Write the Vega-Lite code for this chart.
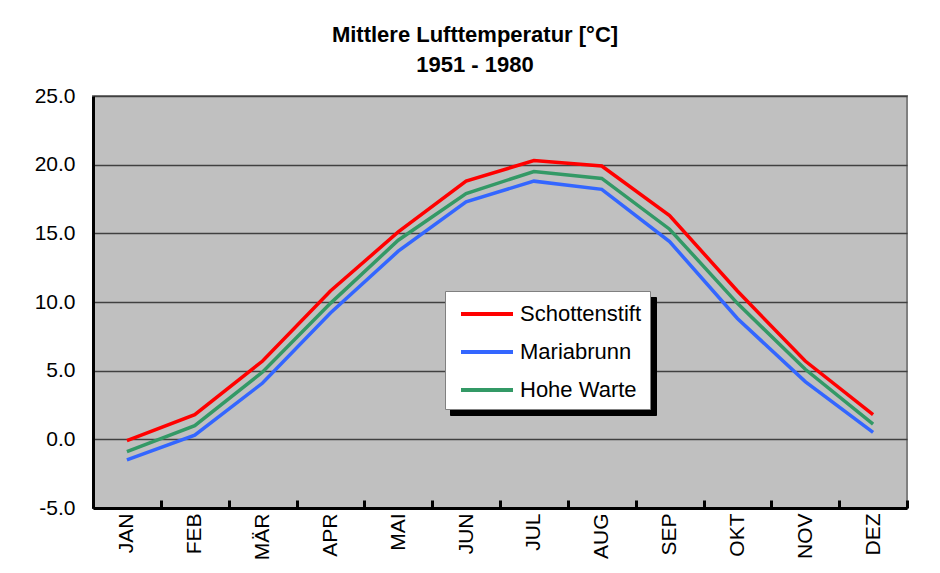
{
  "$schema": "https://vega.github.io/schema/vega-lite/v6.json",
  "width": 814,
  "height": 412,
  "autosize": {"type": "none"},
  "padding": {"left": 93, "top": 96, "right": 33, "bottom": 65},
  "background": "white",
  "title": {
    "text": ["Mittlere Lufttemperatur [°C]", "1951 - 1980"],
    "font": "Liberation Sans",
    "fontSize": 22,
    "fontWeight": "bold",
    "color": "black",
    "lineHeight": 30,
    "frame": "group",
    "anchor": "middle",
    "dx": -25,
    "offset": 8
  },
  "data": {
    "values": [
      {"month": "JAN", "station": "Schottenstift", "temp": -0.1},
      {"month": "FEB", "station": "Schottenstift", "temp": 1.8},
      {"month": "MÄR", "station": "Schottenstift", "temp": 5.7},
      {"month": "APR", "station": "Schottenstift", "temp": 10.8},
      {"month": "MAI", "station": "Schottenstift", "temp": 15.1},
      {"month": "JUN", "station": "Schottenstift", "temp": 18.8},
      {"month": "JUL", "station": "Schottenstift", "temp": 20.3},
      {"month": "AUG", "station": "Schottenstift", "temp": 19.9},
      {"month": "SEP", "station": "Schottenstift", "temp": 16.3},
      {"month": "OKT", "station": "Schottenstift", "temp": 10.8},
      {"month": "NOV", "station": "Schottenstift", "temp": 5.7},
      {"month": "DEZ", "station": "Schottenstift", "temp": 1.8},
      {"month": "JAN", "station": "Mariabrunn", "temp": -1.5},
      {"month": "FEB", "station": "Mariabrunn", "temp": 0.3},
      {"month": "MÄR", "station": "Mariabrunn", "temp": 4.1},
      {"month": "APR", "station": "Mariabrunn", "temp": 9.2},
      {"month": "MAI", "station": "Mariabrunn", "temp": 13.7},
      {"month": "JUN", "station": "Mariabrunn", "temp": 17.3},
      {"month": "JUL", "station": "Mariabrunn", "temp": 18.8},
      {"month": "AUG", "station": "Mariabrunn", "temp": 18.2},
      {"month": "SEP", "station": "Mariabrunn", "temp": 14.4},
      {"month": "OKT", "station": "Mariabrunn", "temp": 8.8},
      {"month": "NOV", "station": "Mariabrunn", "temp": 4.2},
      {"month": "DEZ", "station": "Mariabrunn", "temp": 0.5},
      {"month": "JAN", "station": "Hohe Warte", "temp": -0.9},
      {"month": "FEB", "station": "Hohe Warte", "temp": 1.0},
      {"month": "MÄR", "station": "Hohe Warte", "temp": 4.9},
      {"month": "APR", "station": "Hohe Warte", "temp": 9.9},
      {"month": "MAI", "station": "Hohe Warte", "temp": 14.5},
      {"month": "JUN", "station": "Hohe Warte", "temp": 17.9},
      {"month": "JUL", "station": "Hohe Warte", "temp": 19.5},
      {"month": "AUG", "station": "Hohe Warte", "temp": 19.0},
      {"month": "SEP", "station": "Hohe Warte", "temp": 15.3},
      {"month": "OKT", "station": "Hohe Warte", "temp": 9.9},
      {"month": "NOV", "station": "Hohe Warte", "temp": 5.1},
      {"month": "DEZ", "station": "Hohe Warte", "temp": 1.1}
    ]
  },
  "layer": [
    {
      "mark": {"type": "line", "strokeWidth": 3.5, "opacity": 0},
      "encoding": {
        "x": {"field": "month", "type": "nominal", "sort": null, "bandPosition": 0.5,
              "scale": {"type": "band", "paddingInner": 0, "paddingOuter": 0}},
        "y": {"field": "temp", "type": "quantitative"},
        "detail": {"field": "station"},
        "strokeDash": {
          "field": "station", "type": "nominal",
          "scale": {"domain": ["Hohe Warte", "Mariabrunn", "Schottenstift"], "range": [[1, 0], [1, 0], [1, 0]]},
          "legend": {
            "orient": "none", "legendX": 357, "legendY": 201, "zindex": 0,
            "fillColor": "black", "strokeColor": "black",
            "symbolStrokeColor": "black", "labelColor": "black", "labelOpacity": 0,
            "labelOffset": 141,
            "labelExpr": "'\u2003'"
          }
        }
      }
    },
    {
      "mark": {"type": "line", "strokeWidth": 3.5},
      "encoding": {
        "x": {"field": "month", "type": "nominal", "sort": null, "bandPosition": 0.5,
              "scale": {"type": "band", "paddingInner": 0, "paddingOuter": 0},
              "axis": {
                "title": null, "labelAngle": -90, "labelAlign": "right", "labelBaseline": "middle",
                "labelPadding": 13, "tickBand": "extent", "tickSize": -8, "tickWidth": 3,
                "tickColor": "black", "domainColor": "black", "domainWidth": 3, "grid": false,
                "labelFont": "Liberation Sans", "labelFontSize": 21, "labelColor": "black"
              }},
        "y": {"field": "temp", "type": "quantitative",
              "scale": {"domain": [-5, 25], "nice": false},
              "axis": {
                "title": null, "values": [-5, 0, 5, 10, 15, 20, 25],
                "labelExpr": "replace(format(datum.value, '.1f'), '−', '-')",
                "grid": true, "gridColor": "#404040", "gridWidth": 1.5,
                "domainColor": "black", "domainWidth": 3, "ticks": false,
                "labelPadding": 18, "labelFont": "Liberation Sans", "labelFontSize": 21, "labelColor": "black"
              }},
        "color": {
          "field": "station", "type": "nominal",
          "scale": {"domain": ["Schottenstift", "Mariabrunn", "Hohe Warte"], "range": ["#FF0000", "#3366FF", "#339966"]},
          "legend": {
            "orient": "none", "legendX": 352, "legendY": 195, "zindex": 1,
            "fillColor": "white", "strokeColor": "#808080", "labelColor": "black"
          }
        }
      }
    }
  ],
  "config": {
    "view": {"fill": "#C0C0C0", "stroke": "#808080", "strokeWidth": 2},
    "legend": {
      "title": null,
      "padding": 8,
      "symbolType": "M-2,0H2",
      "symbolSize": 676,
      "symbolStrokeWidth": 4,
      "symbolOffset": 19,
      "labelFont": "Liberation Sans",
      "labelFontSize": 22,
      "labelOffset": 18,
      "rowPadding": 12,
      "labelLimit": 300
    }
  }
}
